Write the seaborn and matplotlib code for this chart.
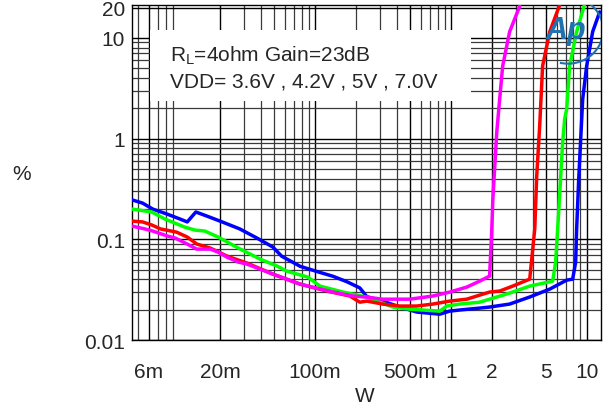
import numpy as np
import pandas as pd
import matplotlib
matplotlib.use('Agg')
import matplotlib.pyplot as plt
from matplotlib.patches import Rectangle, Arc
from matplotlib.ticker import FixedLocator, LogLocator, NullFormatter
import seaborn as sns

w_36 = [0.0045, 0.0056, 0.0064, 0.0082, 0.0094, 0.0115, 0.0135, 0.0170, 0.0194, 0.0225,
        0.0273, 0.0316, 0.0491, 0.0776, 0.1356, 0.190, 0.241, 0.316, 0.50, 0.737,
        0.983, 1.31, 1.63, 1.93, 2.0, 2.04, 2.18, 2.29, 2.41, 2.71, 3.22]
thd_36 = [0.1356, 0.127, 0.121, 0.108, 0.103, 0.0898, 0.0801, 0.0801, 0.0748, 0.0667,
          0.0595, 0.0569, 0.0452, 0.036, 0.030, 0.0274, 0.0267, 0.0255, 0.0255, 0.0274,
          0.030, 0.0336, 0.0385, 0.0432, 0.118, 0.251, 1.16, 2.47, 5.26, 11.5, 20.7]

w_42 = [0.0045, 0.0054, 0.0063, 0.0073, 0.0096, 0.0115, 0.0135, 0.0170, 0.0225, 0.0316,
        0.0491, 0.0776, 0.1226, 0.181, 0.214, 0.241, 0.316, 0.422, 0.562, 0.737,
        0.983, 1.31, 1.93, 2.29, 2.86, 3.81, 4.01, 4.15, 4.29, 4.51, 4.74, 5.35, 6.33]
thd_42 = [0.152, 0.149, 0.139, 0.127, 0.118, 0.1055, 0.090, 0.082, 0.0683, 0.0582,
          0.0452, 0.036, 0.0307, 0.0274, 0.0238, 0.0244, 0.0228, 0.0218, 0.0218, 0.0228,
          0.0244, 0.0255, 0.030, 0.0307, 0.0344, 0.0403, 0.080, 0.127, 0.425, 1.33, 5.26, 11.5, 21.2]

w_50 = [0.0045, 0.0063, 0.0079, 0.0110, 0.0131, 0.0155, 0.0194, 0.0273, 0.0395, 0.0527,
        0.0621, 0.0888, 0.109, 0.161, 0.241, 0.375, 0.50, 0.83, 0.935, 1.16,
        1.63, 1.93, 2.71, 3.81, 5.62, 5.91, 6.12, 6.66, 6.89, 7.13, 7.49, 8.44, 9.62]
thd_50 = [0.200, 0.187, 0.159, 0.1325, 0.1237, 0.121, 0.1055, 0.082, 0.0637, 0.0543,
          0.0484, 0.0422, 0.0344, 0.030, 0.0267, 0.0213, 0.0203, 0.0194, 0.0218, 0.0228,
          0.0238, 0.0255, 0.0293, 0.0344, 0.0385, 0.0595, 0.127, 0.925, 1.57, 1.97, 5.26, 11.5, 21.2]

w_70 = [0.0045, 0.0054, 0.0064, 0.0082, 0.0102, 0.0115, 0.0133, 0.0161, 0.020, 0.028,
        0.0375, 0.049, 0.057, 0.078, 0.109, 0.136, 0.172, 0.214, 0.241, 0.316,
        0.422, 0.562, 0.83, 0.98, 1.16, 1.63, 1.93, 2.71, 3.81, 5.35,
        7.13, 7.89, 8.30, 8.44, 8.74, 9.35, 10.0, 11.07, 12.47]
thd_70 = [0.247, 0.229, 0.200, 0.178, 0.159, 0.149, 0.187, 0.170, 0.152, 0.127,
          0.103, 0.084, 0.068, 0.054, 0.047, 0.043, 0.038, 0.033, 0.027, 0.0244,
          0.0213, 0.019, 0.0181, 0.0194, 0.0199, 0.0208, 0.0213, 0.0228, 0.0268, 0.0321,
          0.0394, 0.0403, 0.0595, 0.127, 0.397, 2.47, 5.26, 11.5, 18.1]

x_ticks = [0.006, 0.02, 0.1, 0.5, 1, 2, 5, 10]
x_labels = ['6m', '20m', '100m', '500m', '1', '2', '5', '10']
y_ticks = [0.01, 0.1, 1, 10, 20]
y_labels = ['0.01', '0.1', '1', '10', '20']

# Ordre de tracé : bleu en dessous, magenta au dessus
series = [('7.0V', w_70, thd_70), ('5V', w_50, thd_50), ('4.2V', w_42, thd_42), ('3.6V', w_36, thd_36)]
palette = {'3.6V': '#ff00ff', '4.2V': '#ff0000', '5V': '#00ff00', '7.0V': '#0000ff'}

frames = []
for name, w, thd in series:
    frames.append(pd.DataFrame({'W': w, 'THD': thd, 'VDD': name}))
df = pd.concat(frames, ignore_index=True)

sns.set_style("white")
plt.rcParams['font.family'] = ['Liberation Sans', 'DejaVu Sans']

fig = plt.figure(figsize=(6.05, 4.14), dpi=100)
ax = fig.add_axes([0.218, 0.176, 0.775, 0.8095])

sns.lineplot(data=df, x='W', y='THD', hue='VDD', palette=palette, sort=False,
             estimator=None, linewidth=2.5, legend=False, ax=ax, zorder=3)

ax.set_xscale('log')
ax.set_yscale('log')
ax.set_xlim(0.0045, 12.7)
ax.set_ylim(0.01, 21.2)

# Graduations
ax.xaxis.set_major_locator(FixedLocator(x_ticks))
ax.set_xticklabels(x_labels)
ax.xaxis.set_minor_locator(LogLocator(base=10, subs=np.arange(2, 10)))
ax.xaxis.set_minor_formatter(NullFormatter())
ax.yaxis.set_major_locator(FixedLocator(y_ticks))
ax.set_yticklabels(y_labels)
ax.yaxis.set_minor_locator(LogLocator(base=10, subs=np.arange(2, 10)))
ax.yaxis.set_minor_formatter(NullFormatter())
ax.tick_params(axis='both', which='both', length=0, labelsize=15)
ax.tick_params(axis='x', pad=16)
ax.tick_params(axis='y', pad=5)

# Grille façon Audio Precision
ax.set_axisbelow(True)
ax.grid(True, which='major', color='black', linewidth=1.0)
ax.grid(True, which='minor', color='#3a3a3a', linewidth=0.9)
for s in ax.spines.values():
    s.set_color('black')
    s.set_linewidth(1.0)

ax.set_xlabel('W', fontsize=15)
ax.set_ylabel('%', fontsize=15, rotation=0)
ax.xaxis.set_label_coords(0.497, -0.138)
ax.yaxis.set_label_coords(-0.235, 0.47)

# Encadré blanc avec les conditions de test
ax.add_patch(Rectangle((0.038, 0.713), 0.685, 0.212, transform=ax.transAxes,
                       facecolor='white', edgecolor='none', zorder=2))
ax.text(0.081, 0.850, r'R$\mathregular{_L}$=4ohm Gain=23dB', transform=ax.transAxes,
        fontsize=15, va='center', ha='left', zorder=4)
ax.text(0.081, 0.772, 'VDD= 3.6V , 4.2V , 5V , 7.0V', transform=ax.transAxes,
        fontsize=15, va='center', ha='left', zorder=4)

# Logo Ap
ax.text(0.925, 0.925, 'Ap', transform=ax.transAxes, fontsize=22, fontstyle='italic',
        fontweight='bold', color='#1f72b0', ha='center', va='center', zorder=5)
ax.add_patch(Arc((0.93, 0.925), 0.15, 0.2, theta1=-100, theta2=95, transform=ax.transAxes,
                 color='#1f72b0', linewidth=1.5, zorder=5))

plt.savefig('out.png', dpi=100)
plt.close()
